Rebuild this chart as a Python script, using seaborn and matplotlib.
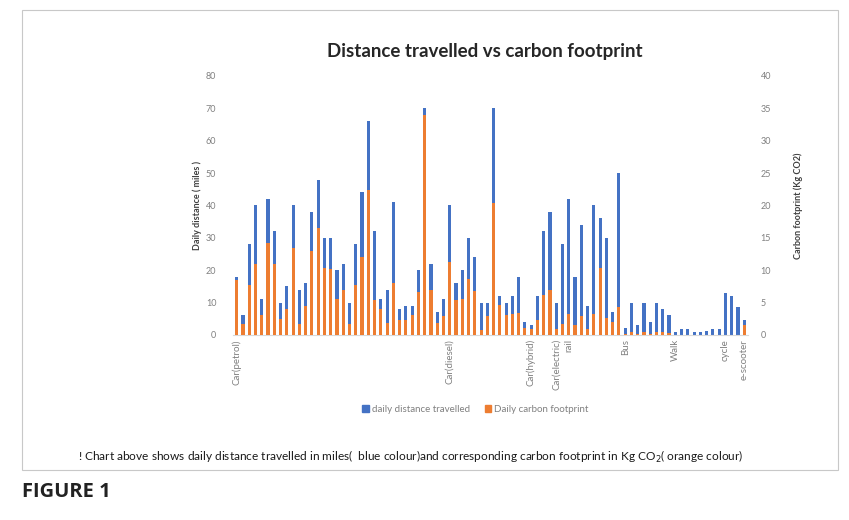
#!/usr/bin/python3

import numpy as np
import seaborn as sns
import matplotlib.pyplot as plt
from matplotlib.patches import Patch, Rectangle

# daily distance (miles) per respondent
distance = [18, 6, 28, 40, 11, 42, 32, 10, 15, 40,
            14, 16, 38, 48, 30, 30, 20, 22, 10, 28,
            44, 66, 32, 11, 14, 41, 8, 9, 9, 20,
            70, 22, 7, 11, 40, 16, 20, 30, 24, 10,
            10, 70, 12, 10, 12, 18, 4, 3, 12, 32,
            38, 10, 28, 42, 18, 34, 9, 40, 36, 30,
            7, 50, 2, 10, 3, 10, 4, 10, 8, 6,
            1, 1.7, 1.7, 1, 0.8, 1.3, 1.7, 1.7, 13, 12, 8.5, 4.5]

# daily carbon footprint (kg CO2)
carbon = [8.5, 1.7, 7.7, 11, 3.1, 14.2, 11, 2.4, 4, 13.4,
          1.7, 4.4, 12.9, 16.5, 10.3, 10.1, 5.5, 7, 1.7, 7.7,
          12, 22.4, 5.4, 4, 1.9, 8, 2.3, 2.3, 3.1, 6.7,
          34, 7, 1.9, 2.9, 11.3, 5.4, 5.5, 8.7, 6.8, 0.8,
          2.9, 20.4, 4.6, 3.1, 3.3, 3.4, 1, 0.9, 2.3, 6.2,
          6.9, 0.9, 1.7, 3.3, 1.5, 2.9, 0.9, 3.3, 10.3, 2.6,
          2, 4.3, 0.2, 0.5, 0.2, 0.4, 0.2, 0.5, 0.4, 0.3,
          0, 0, 0, 0, 0, 0, 0, 0, 0, 0, 0, 1.5]

modes = ['Car(petrol)', 'Car(diesel)', 'Car(hybrid)', 'Car(electric)', 'rail',
         'Bus', 'Walk', 'cycle', 'e-scooter']
mode_counts = [34, 13, 4, 2, 9, 8, 8, 3, 1]

BLUE = '#4472C4'
ORANGE = '#ED7D31'
GREY = '#808080'


def main():
    sns.set_style('white')
    plt.rcParams['font.family'] = ['Lato', 'DejaVu Sans']

    idx = np.arange(len(distance))

    fig = plt.figure(figsize=(8.49, 5.2), dpi=100)
    ax = fig.add_axes([0.2744, 0.356, 0.6066, 0.498])

    sns.barplot(x=idx, y=distance, ax=ax, color=BLUE, saturation=1,
                width=0.5, linewidth=0)
    ax2 = ax.twinx()
    sns.barplot(x=idx, y=carbon, ax=ax2, color=ORANGE, saturation=1,
                width=0.5, linewidth=0)

    ax.set_ylim(0, 80)
    ax2.set_ylim(0, 40)
    ax.set_yticks(range(0, 81, 10))
    ax2.set_yticks(range(0, 41, 5))
    ax.set_xlim(-0.6, len(distance) - 0.4)

    # group label at the first bar of each travel mode
    starts = np.concatenate([[0], np.cumsum(mode_counts)[:-1]])
    ax.set_xticks(starts)
    ax.set_xticklabels(modes, rotation=90, va='top', ha='center')

    for a in (ax, ax2):
        for s in a.spines.values():
            s.set_visible(False)
        a.tick_params(length=0, labelsize=6.5, labelcolor=GREY)
    ax.spines['bottom'].set_visible(True)
    ax.spines['bottom'].set_color('#d9d9d9')
    ax.tick_params(axis='y', pad=12)
    ax.tick_params(axis='x', pad=3, labelsize=7)
    ax2.tick_params(axis='y', pad=9)

    ax.set_ylabel('Daily distance ( miles )', fontsize=6.5, fontweight='bold',
                  color='#404040', labelpad=3)
    ax2.set_ylabel('Carbon footprint (Kg CO2)', fontsize=6.5, fontweight='bold',
                   color='#404040', labelpad=16)
    ax.set_xlabel('')

    fig.text(0.571, 0.9, 'Distance travelled vs carbon footprint', ha='center',
             va='center', fontsize=13.5, fontweight='bold', color='#262626')

    handles = [Patch(color=BLUE, label='daily distance travelled'),
               Patch(color=ORANGE, label='Daily carbon footprint')]
    fig.legend(handles=handles, loc='center', bbox_to_anchor=(0.56, 0.212),
               ncol=2, frameon=False, fontsize=7, labelcolor=GREY,
               handlelength=0.7, handleheight=0.7, handletextpad=0.3,
               columnspacing=1.5)

    fig.text(0.092, 0.121, '! Chart above shows daily distance travelled in miles(  blue colour)'
             'and corresponding carbon footprint in Kg CO$_2$( orange colour)',
             ha='left', va='center', fontsize=8.6, color='#1a1a1a')

    fig.add_artist(Rectangle((0.026, 0.096), 0.961, 0.885, transform=fig.transFigure,
                             fill=False, edgecolor='#c8c8c8', linewidth=0.8))
    fig.text(0.026, 0.054, 'FIGURE 1', ha='left', va='center', fontsize=14.5,
             fontweight='bold', color='#222222', family=['Open Sans', 'DejaVu Sans'])

    fig.savefig('out.png', dpi=100)


if __name__ == '__main__':
    main()
